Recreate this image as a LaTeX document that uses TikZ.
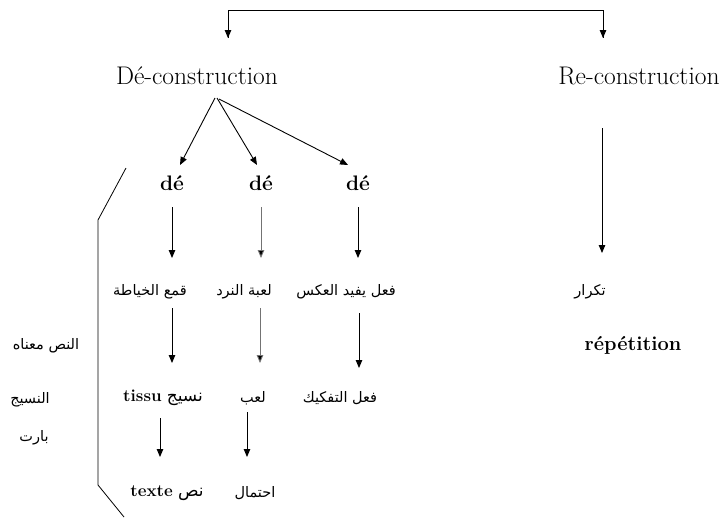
\documentclass[tikz,border=0pt]{standalone}
\usepackage{fontspec}
\usetikzlibrary{arrows.meta}
\newfontfamily\arabicfont[Script=Arabic]{DejaVu Sans}
\TeXXeTstate=1
\newcommand{\ar}[1]{{\arabicfont\beginR #1\endR}}
\begin{document}
\begin{tikzpicture}[x=1pt,y=-1pt,
  arr/.style={line width=0.9pt,-{Triangle[length=8pt,width=6.5pt]}},
  garr/.style={arr,draw=black!55,-{Triangle[length=8pt,width=6.5pt,fill=black]}},
  bigt/.style={inner sep=0pt,font=\fontsize{25.5}{28}\selectfont},
  det/.style={inner sep=0pt,font=\fontsize{21}{24}\selectfont\bfseries},
  art/.style={inner sep=0pt,font=\fontsize{14.5}{17}\selectfont},
  lat/.style={inner sep=0pt,font=\fontsize{17}{20}\selectfont}]
\useasboundingbox (0,0) rectangle (727,517);
% top bracket
\coordinate (tl) at (228,10);
\coordinate (tr) at (603,10);
\coordinate (tla) at (228,38);
\coordinate (tra) at (603,38);
\draw[line width=0.9pt] (tla) -- (tl) -- (tr) -- (tra);
\draw[arr] (tl) -- (tla);
\draw[arr] (tr) -- (tra);
% headings
\node[bigt] (dec) at (197,76) {Dé-construction};
\node[bigt] (rec) at (639,76) {Re-construction};
% fan
\coordinate (ap1) at (215,98);
\coordinate (ap2) at (217,98);
\coordinate (ap3) at (219,99);
\node[det] (d1) at (172,183) {dé};
\node[det] (d2) at (261,183) {dé};
\node[det] (d3) at (358,183) {dé};
\coordinate (f1) at (180,165);
\coordinate (f2) at (257,165);
\coordinate (f3) at (348,165);
\draw[arr] (ap1) -- (f1);
\draw[arr] (ap2) -- (f2);
\draw[arr] (ap3) -- (f3);
% left bracket
\coordinate (b1) at (126,168);
\coordinate (b2) at (98,220);
\coordinate (b3) at (98,485);
\coordinate (b4) at (124,517);
\draw[line width=0.8pt] (b1) -- (b2) -- (b3) -- (b4);
% row 1 arrows
\coordinate (v1s) at (172,207); \coordinate (v1e) at (172,258);
\coordinate (v2s) at (261,207); \coordinate (v2e) at (261,258);
\coordinate (v3s) at (358,207); \coordinate (v3e) at (358,258);
\draw[arr] (v1s) -- (v1e);
\draw[garr] (v2s) -- (v2e);
\draw[arr] (v3s) -- (v3e);
% row 2 texts
\node[art] (r21) at (150,292) {\ar{قمع الخياطة}};
\node[art] (r22) at (244,292) {\ar{لعبة النرد}};
\node[art] (r23) at (346,292) {\ar{فعل يفيد العكس}};
% row 2 arrows
\coordinate (w1s) at (172,308); \coordinate (w1e) at (172,363);
\coordinate (w2s) at (260,308); \coordinate (w2e) at (260,363);
\coordinate (w3s) at (359,313); \coordinate (w3e) at (359,368);
\draw[arr] (w1s) -- (w1e);
\draw[garr] (w2s) -- (w2e);
\draw[arr] (w3s) -- (w3e);
% row 3 texts
\node[lat] (r31) at (163,398) {\textbf{tissu} \ar{نسيج}};
\node[art] (r32) at (253,398) {\ar{لعب}};
\node[art] (r33) at (340,398) {\ar{فعل التفكيك}};
% row 3 arrows
\coordinate (u1s) at (160,418); \coordinate (u1e) at (160,457);
\coordinate (u2s) at (247,412); \coordinate (u2e) at (247,457);
\draw[arr] (u1s) -- (u1e);
\draw[arr] (u2s) -- (u2e);
% row 4 texts
\node[lat] (r41) at (167,493) {\textbf{texte} \ar{نص}};
\node[art] (r42) at (255,493) {\ar{احتمال}};
% left column
\node[art] (l1) at (46,346) {\ar{النص معناه}};
\node[art] (l2) at (30,400) {\ar{النسيج}};
\node[art] (l3) at (34,438) {\ar{بارت}};
% right column
\coordinate (rs) at (602,128);
\coordinate (re) at (602,253);
\draw[arr] (rs) -- (re);
\node[art] (k1) at (590,292) {\ar{تكرار}};
\node[det,font=\fontsize{20}{24}\selectfont\bfseries] (k2) at (633,345) {répétition};
\end{tikzpicture}
\end{document}
